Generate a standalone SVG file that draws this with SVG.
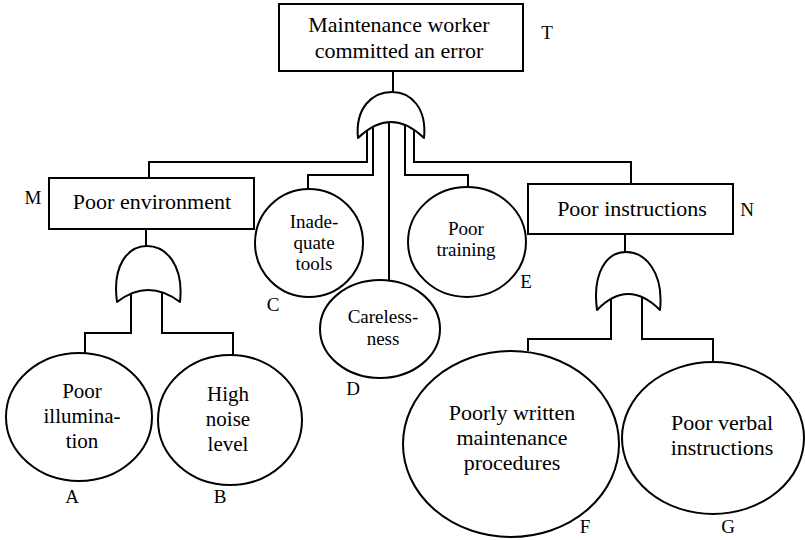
<svg xmlns="http://www.w3.org/2000/svg" width="805" height="540" viewBox="0 0 805 540" font-family="'Liberation Serif', 'DejaVu Serif', 'Times New Roman', serif">
<style>
.bx{fill:#fff;stroke:#000;stroke-width:2}
.ev{fill:#fff;stroke:#000;stroke-width:2}
.gt{fill:#fff;stroke:#000;stroke-width:2;stroke-linejoin:round}
.cn{fill:none;stroke:#000;stroke-width:2}
text{font-family:'Liberation Serif','DejaVu Serif','Times New Roman',serif;fill:#000;text-anchor:middle}
.t22{font-size:22px}
.t21{font-size:21px}
.t19{font-size:19px}
.lb{font-size:19px}
</style>
<rect width="805" height="540" fill="#fff"/>
<g id="connectors">
<path class="cn" d="M393,71 V96"/>
<path class="cn" d="M367,115 V162 H149 V178"/>
<path class="cn" d="M373,115 V175 H308 V189"/>
<path class="cn" d="M389,115 V280"/>
<path class="cn" d="M405,115 V175 H468 V187"/>
<path class="cn" d="M414,115 V162 H631 V184"/>
<path class="cn" d="M146,229 V249"/>
<path class="cn" d="M131,270 V333 H85 V353"/>
<path class="cn" d="M162,270 V333 H233 V355"/>
<path class="cn" d="M625,234 V255"/>
<path class="cn" d="M611,280 V339 H528 V351"/>
<path class="cn" d="M642,280 V339 H713 V362"/>
</g>
<g id="T">
<rect class="bx" x="279" y="4" width="244" height="67"/>
<text class="t22" x="399" y="32" font-family="Liberation Serif, serif">Maintenance worker</text>
<text class="t22" x="399" y="58" font-family="Liberation Serif, serif">committed an error</text>
<text class="lb" x="547" y="39">T</text>
</g>
<g id="gateT">
<path class="gt" d="M358,138 C355,108 372,92 392,92 C411,92 427,108 424,138 Q391,106 358,138 Z"/>
</g>
<g id="M">
<rect class="bx" x="49" y="178" width="205" height="51"/>
<text class="t22" x="152" y="209">Poor environment</text>
<text class="lb" x="33" y="204">M</text>
</g>
<g id="gateM">
<path class="gt" d="M117,302 C112,265 128,246 147,246 C166,246 184,265 180,302 Q148,278 117,302 Z"/>
</g>
<g id="N">
<rect class="bx" x="528" y="184" width="205" height="50"/>
<text class="t22" x="632" y="216">Poor instructions</text>
<text class="lb" x="747" y="216">N</text>
</g>
<g id="gateN">
<path class="gt" d="M597,310 C592,272 607,252 626,252 C645,252 664,272 660,310 Q628,278 597,310 Z"/>
</g>
<g id="A">
<ellipse class="ev" cx="79" cy="417" rx="73" ry="64"/>
<text class="t21" x="82" y="398">Poor</text>
<text class="t21" x="82" y="423">illumina-</text>
<text class="t21" x="82" y="448">tion</text>
<text class="lb" x="72" y="503">A</text>
</g>
<g id="B">
<ellipse class="ev" cx="230" cy="420" rx="72" ry="65"/>
<text class="t21" x="228" y="401">High</text>
<text class="t21" x="228" y="426">noise</text>
<text class="t21" x="228" y="451">level</text>
<text class="lb" x="220" y="503">B</text>
</g>
<g id="C">
<ellipse class="ev" cx="309" cy="243" rx="54" ry="54"/>
<text class="t19" x="314" y="228">Inade-</text>
<text class="t19" x="314" y="249">quate</text>
<text class="t19" x="314" y="270">tools</text>
<text class="lb" x="273" y="311">C</text>
</g>
<g id="D">
<ellipse class="ev" cx="380" cy="329" rx="60" ry="49"/>
<text class="t19" x="383" y="323">Careless-</text>
<text class="t19" x="383" y="345">ness</text>
<text class="lb" x="353" y="395">D</text>
</g>
<g id="E">
<ellipse class="ev" cx="467" cy="242" rx="59" ry="55"/>
<text class="t19" x="466" y="235">Poor</text>
<text class="t19" x="466" y="256">training</text>
<text class="lb" x="526" y="288">E</text>
</g>
<g id="F">
<ellipse class="ev" cx="511" cy="444" rx="108" ry="93"/>
<text class="t22" x="512" y="420">Poorly written</text>
<text class="t22" x="512" y="445">maintenance</text>
<text class="t22" x="512" y="470">procedures</text>
<text class="lb" x="585" y="533">F</text>
</g>
<g id="G">
<ellipse class="ev" cx="713" cy="438" rx="91" ry="76"/>
<text class="t22" x="722" y="430">Poor verbal</text>
<text class="t22" x="722" y="455">instructions</text>
<text class="lb" x="728" y="533">G</text>
</g>
</svg>
